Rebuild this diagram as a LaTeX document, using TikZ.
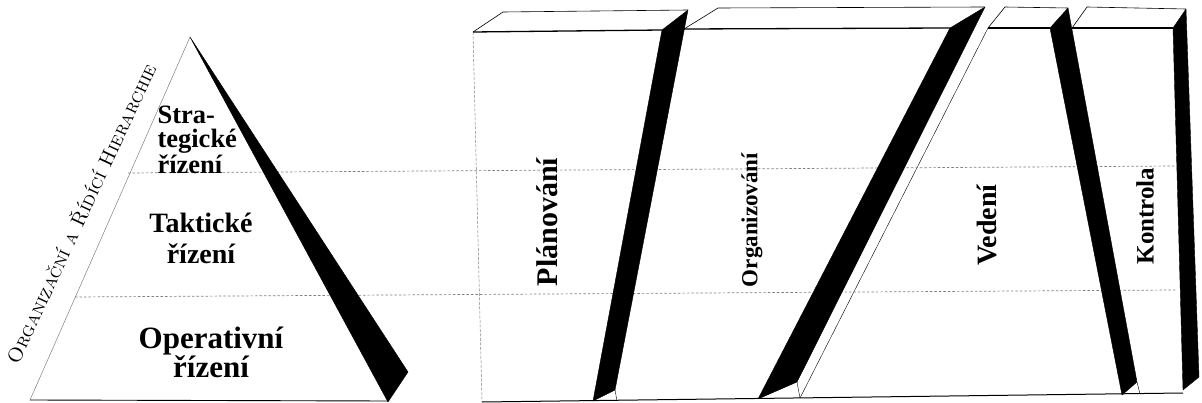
\documentclass[tikz,border=0pt]{standalone}
\usepackage{fontspec}
\newfontfamily\labelserif{Liberation Serif}
\usetikzlibrary{calc}

\tikzset{
  edge/.style={black, line width=0.6pt},
  topedge/.style={black, line width=1.3pt},
  blackside/.style={fill=black, draw=black, line width=0.4pt, line join=round},
  levelline/.style={gray, line width=0.7pt, dash pattern=on 2.5pt off 2pt},
  funclabel/.style={rotate=90, inner sep=0pt},
}

\begin{document}
\begin{tikzpicture}[x=1pt,y=-1pt]
\useasboundingbox (0,0) rectangle (1202,403);

% boxes, front and top faces
\draw[gray, line width=0.5pt, dash pattern=on 3pt off 1.5pt] (473,32) -- (482,402);
\draw[topedge] (473,32) -- (662,30);
\draw[edge] (473,32) -- (503,12) -- (688,10);
\draw[topedge] (684,29) -- (950,28);
\draw[edge] (684,29) -- (718,8) -- (985,7);
\draw[edge, line width=0.4pt] (800,398) -- (988,28);
\draw[topedge] (988,28) -- (1050,28);
\draw[edge] (988,28) -- (1005,7) -- (1068,8);
\draw[topedge] (1072,28) -- (1173,28);
\draw[edge] (1072,28) -- (1087,7) -- (1186,9);
\draw[edge, line width=0.4pt] (615,390) -- (617,401);
\draw[edge, line width=0.4pt] (797,382) -- (800,398);
\draw[edge, line width=0.4pt] (1137,382) -- (1140,394);
\draw[topedge, line width=1pt] (482,402) -- (1183,393);

% pyramid
\draw[gray, line width=0.5pt] (30,400) -- (190,37);
\draw[edge, line width=0.9pt] (30,400) -- (388,401);

% levels
\draw[levelline] (128,173) -- (1176,166);
\draw[levelline] (75,297) -- (1176,290);

% black sides
\filldraw[blackside] (190,37) -- (408,372) -- (388,402) -- cycle;
\filldraw[blackside] (662,30) -- (688,10) -- (615,390) -- (593,401) -- cycle;
\filldraw[blackside] (950,28) -- (985,7) -- (797,382) -- (758,399) -- cycle;
\filldraw[blackside] (1050,28) -- (1068,8) -- (1137,382) -- (1122,395) -- cycle;
\filldraw[blackside] (1173,28) -- (1186,9) -- (1199,377) -- (1183,390) -- cycle;

% texts
\node[font=\labelserif\bfseries\fontsize{26.5}{24}\selectfont, align=left, anchor=west] (strat) at (154,140) {Stra-\\tegické\\řízení};
\node[font=\labelserif\bfseries\fontsize{28}{31}\selectfont, align=center] (takt) at (201,238) {Taktické\\řízení};
\node[font=\labelserif\bfseries\fontsize{31}{29}\selectfont, align=center] (oper) at (211,352) {Operativní\\řízení};
\node[rotate=65, font=\fontsize{20}{21}\selectfont\scshape] (hier) at (80,213) {Organizační a Řídící Hierarchie};

\node[funclabel, font=\labelserif\bfseries\fontsize{30}{30}\selectfont] (plan) at (547,222) {Plánování};
\node[funclabel, font=\labelserif\bfseries\fontsize{23}{23}\selectfont] (org) at (752,220) {Organizování};
\node[funclabel, font=\labelserif\bfseries\fontsize{28}{28}\selectfont] (ved) at (987,225) {Vedení};
\node[funclabel, font=\labelserif\bfseries\fontsize{25}{25}\selectfont] (kontr) at (1145,216) {Kontrola};
\end{tikzpicture}
\end{document}
